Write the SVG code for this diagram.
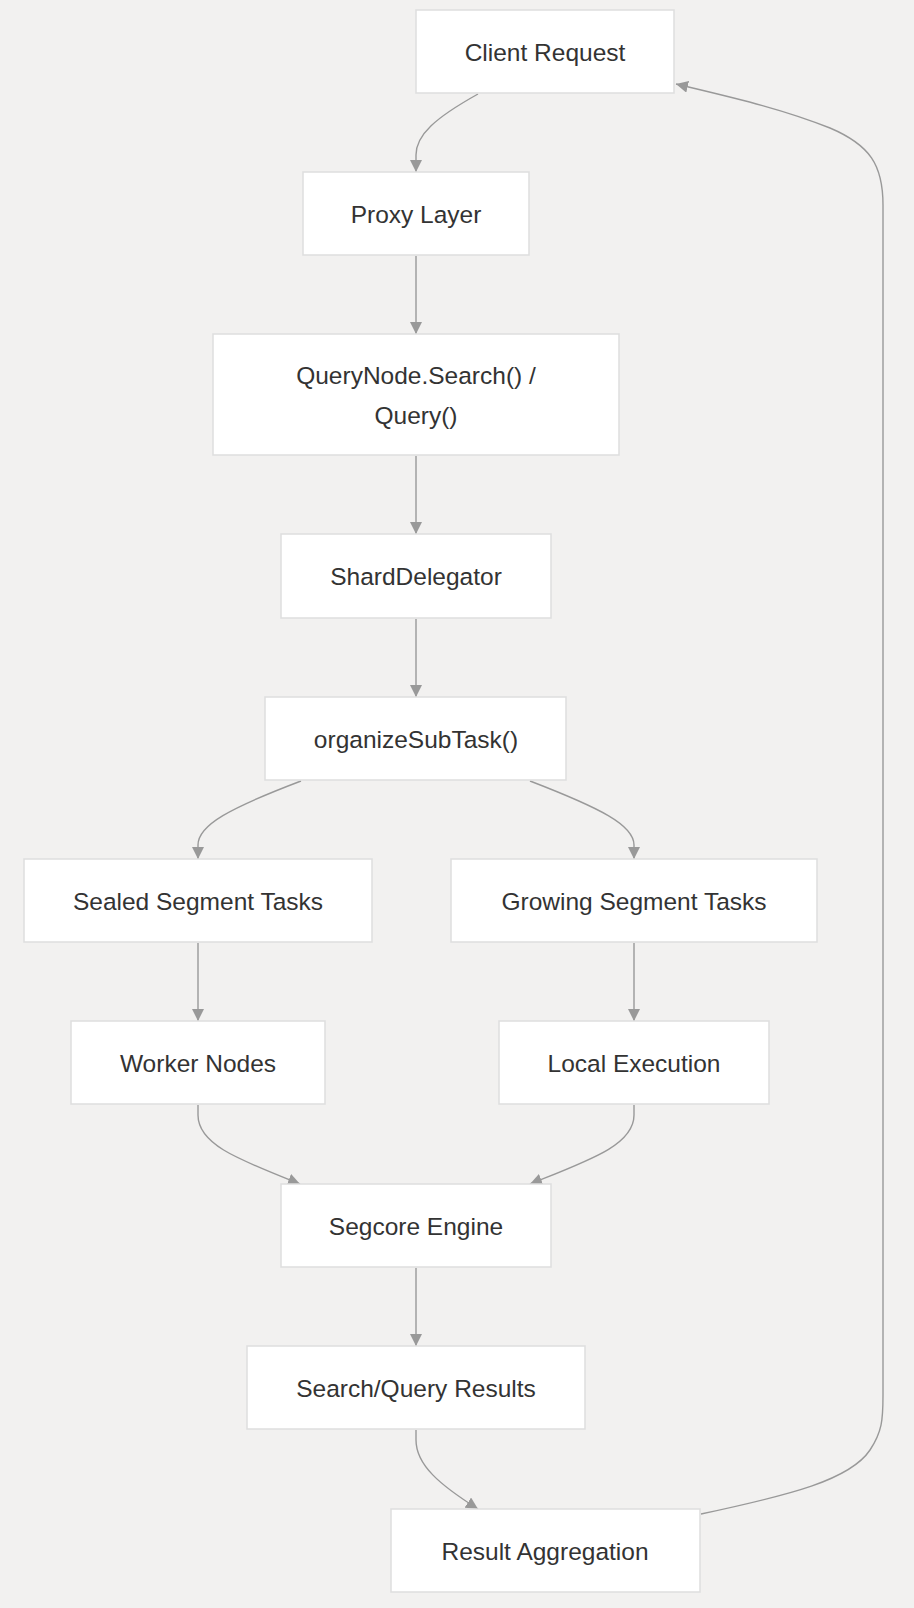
<svg xmlns="http://www.w3.org/2000/svg" width="914" height="1608" viewBox="0 0 914 1608">
<style>
.n rect{fill:#ffffff;stroke:#dedede;stroke-width:1.5}
.n text{font-family:"Liberation Sans",Arial,sans-serif;font-size:24.5px;fill:#333333;text-anchor:middle;dominant-baseline:central}
.e path{fill:none;stroke:#999999;stroke-width:1.4}
</style>
<defs>
<marker id="ah" viewBox="0 0 12 12" refX="12" refY="6" markerWidth="12" markerHeight="12" markerUnits="userSpaceOnUse" orient="auto">
<path d="M0,0 L12,6 L0,12 z" fill="#999999"/>
</marker>
</defs>
<rect width="914" height="1608" fill="#f2f1f0"/>
<g class="e">
<path d="M478,94 C435,118 416,135 416,155 L416,172" marker-end="url(#ah)"/>
<path d="M416,256 L416,334" marker-end="url(#ah)"/>
<path d="M416,456 L416,534" marker-end="url(#ah)"/>
<path d="M416,619 L416,697" marker-end="url(#ah)"/>
<path d="M301,781 C230,808 198,825 198,845 L198,859" marker-end="url(#ah)"/>
<path d="M530,781 C600,808 634,825 634,845 L634,859" marker-end="url(#ah)"/>
<path d="M198,943 L198,1021" marker-end="url(#ah)"/>
<path d="M634,943 L634,1021" marker-end="url(#ah)"/>
<path d="M198,1105 L198,1115 C198,1145 240,1160 300,1184" marker-end="url(#ah)"/>
<path d="M634,1105 L634,1115 C634,1145 590,1160 530,1184" marker-end="url(#ah)"/>
<path d="M416,1268 L416,1346" marker-end="url(#ah)"/>
<path d="M416,1430 L416,1440 C416,1465 440,1485 478,1509" marker-end="url(#ah)"/>
<path d="M701,1514 C790,1495 850,1480 870,1450 C882,1432 883,1420 883,1395 L883,205 C883,165 870,145 830,128 C780,108 730,97 676,84" marker-end="url(#ah)"/>
</g>
<g id="client" class="n"><rect x="416" y="10" width="258" height="83"/><text x="545" y="52">Client Request</text></g>
<g id="proxy" class="n"><rect x="303" y="172" width="226" height="83"/><text x="416" y="214">Proxy Layer</text></g>
<g id="querynode" class="n"><rect x="213" y="334" width="406" height="121"/><text x="416" y="375">QueryNode.Search() /</text><text x="416" y="415">Query()</text></g>
<g id="sharddelegator" class="n"><rect x="281" y="534" width="270" height="84"/><text x="416" y="576">ShardDelegator</text></g>
<g id="organize" class="n"><rect x="265" y="697" width="301" height="83"/><text x="416" y="739">organizeSubTask()</text></g>
<g id="sealed" class="n"><rect x="24" y="859" width="348" height="83"/><text x="198" y="901">Sealed Segment Tasks</text></g>
<g id="growing" class="n"><rect x="451" y="859" width="366" height="83"/><text x="634" y="901">Growing Segment Tasks</text></g>
<g id="worker" class="n"><rect x="71" y="1021" width="254" height="83"/><text x="198" y="1063">Worker Nodes</text></g>
<g id="local" class="n"><rect x="499" y="1021" width="270" height="83"/><text x="634" y="1063">Local Execution</text></g>
<g id="segcore" class="n"><rect x="281" y="1184" width="270" height="83"/><text x="416" y="1226">Segcore Engine</text></g>
<g id="results" class="n"><rect x="247" y="1346" width="338" height="83"/><text x="416" y="1388">Search/Query Results</text></g>
<g id="aggregation" class="n"><rect x="391" y="1509" width="309" height="83"/><text x="545" y="1551">Result Aggregation</text></g>
</svg>
